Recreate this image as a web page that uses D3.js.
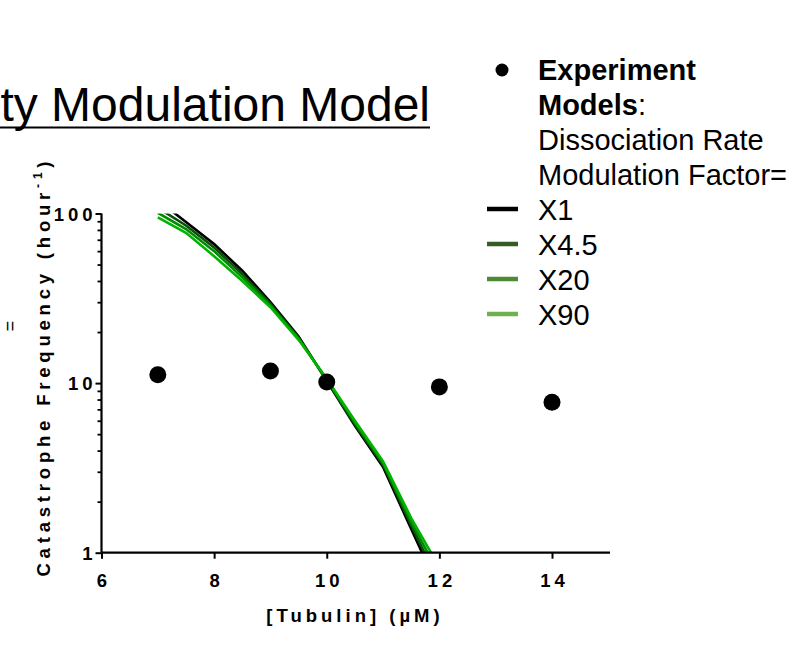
<!DOCTYPE html>
<html>
<head>
<meta charset="utf-8">
<script src="https://cdn.jsdelivr.net/npm/d3@7"></script>
<style>
  html, body { margin: 0; padding: 0; background: #fff; }
  svg { display: block; font-family: Arial, "Liberation Sans", sans-serif; }
</style>
</head>
<body>
<svg id="chart" width="791" height="646"></svg>
<script>
// Measured catastrophe frequency
const expTubulin = [7, 9, 10, 12, 14];
const expFrequency = [11.2, 11.8, 10.15, 9.5, 7.7];

// Model predictions, one series per dissociation rate modulation factor
const modelTubulin = [7, 7.5, 8, 8.5, 9, 9.5, 10, 10.5, 11, 11.5, 12];
const modelX1   = [120, 89, 66, 46, 30, 18.8, 10.3, 5.6, 3.2, 1.38, 0.6];
const modelX4_5 = [108, 85, 63, 44, 29.3, 18.5, 10.4, 5.7, 3.3, 1.45, 0.66];
const modelX20  = [101, 81, 60, 42, 28.6, 18.3, 10.5, 5.85, 3.38, 1.52, 0.74];
const modelX90  = [95, 77, 56, 40, 28, 18, 10.6, 6.0, 3.45, 1.6, 0.82];

const seriesNames = ["X1", "X4.5", "X20", "X90"];
const seriesValues = [modelX1, modelX4_5, modelX20, modelX90];
const lineColors = ["#000000", "#0a4f0a", "#008c00", "#00b400"];
const legendColors = ["#000000", "#355d25", "#4d8a33", "#6db24c"];

const xTicks = [6, 8, 10, 12, 14];
const yTicks = [1, 10, 100];

const FONT = "Arial, 'Liberation Sans', sans-serif";
const svg = d3.select("#chart");

const x = d3.scaleLinear().domain([6, 15.03]).range([101.5, 610]);
const y = d3.scaleLog().domain([1, 100]).range([552.7, 213.5]);

// Title (underlined)
svg.append("text")
  .attr("x", 430).attr("y", 121)
  .attr("text-anchor", "end")
  .attr("font-size", 48)
  .attr("fill", "#000")
  .text("ty Modulation Model");
svg.append("line")
  .attr("x1", 0).attr("x2", 430)
  .attr("y1", 127.5).attr("y2", 127.5)
  .attr("stroke", "#000").attr("stroke-width", 2.2);

// Rotated "=" at the left margin
svg.append("text")
  .attr("transform", "translate(16,326) rotate(-90)")
  .attr("text-anchor", "middle")
  .attr("font-size", 18)
  .text("=");

// Clip region for model curves
svg.append("defs").append("clipPath").attr("id", "plotClip")
  .append("rect")
  .attr("x", x(6)).attr("y", y(100))
  .attr("width", x(15.03) - x(6)).attr("height", y(1) - y(100));

const line = d3.line()
  .x((d, i) => x(modelTubulin[i]))
  .y(d => y(d));

const curves = svg.append("g").attr("clip-path", "url(#plotClip)");
seriesValues.forEach((vals, k) => {
  curves.append("path")
    .datum(vals)
    .attr("d", line)
    .attr("fill", "none")
    .attr("stroke", lineColors[k])
    .attr("stroke-width", 2.6);
});

// Axes
const TICK_FS = 18.5, TICK_LS = 4;
const xAxis = d3.axisBottom(x).tickValues(xTicks).tickSize(6);
const gx = svg.append("g").attr("transform", `translate(0,${y(1)})`).call(xAxis);
gx.select(".domain").attr("d", `M${x(6)},0H${x(15.03)}`).attr("stroke-width", 2.2);
gx.selectAll(".tick line").attr("stroke-width", 2);
gx.selectAll(".tick text")
  .attr("font-size", TICK_FS).attr("font-weight", "bold")
  .attr("font-family", FONT)
  .attr("letter-spacing", TICK_LS + "px")
  .attr("y", 34).attr("dy", 0)
  .attr("dx", (TICK_LS / 2) + "px");

const minorVals = [];
for (let dec = 1; dec < 100; dec *= 10) {
  for (let m = 2; m <= 9; m++) minorVals.push(m * dec);
}
const yMinor = d3.axisLeft(y).tickValues(minorVals).tickSize(4).tickFormat("");
const gyMinor = svg.append("g").attr("transform", `translate(${x(6)},0)`).call(yMinor);
gyMinor.select(".domain").remove();
gyMinor.selectAll(".tick line").attr("stroke-width", 1.8);

const yAxis = d3.axisLeft(y).tickValues(yTicks).tickSize(6).tickPadding(3)
  .tickFormat(d3.format("d"));
const gy = svg.append("g").attr("transform", `translate(${x(6)},0)`).call(yAxis);
gy.select(".domain").attr("d", `M0,${y(1)}V${y(100)}`).attr("stroke-width", 2.2);
gy.selectAll(".tick line").attr("stroke-width", 2);
gy.selectAll(".tick text")
  .attr("font-size", TICK_FS).attr("font-weight", "bold")
  .attr("font-family", FONT)
  .attr("letter-spacing", TICK_LS + "px")
  .attr("dx", TICK_LS + "px")
  .attr("dy", "0.36em");

// Axis titles
const XL_LS = 4;
svg.append("text")
  .attr("x", 353 + XL_LS / 2).attr("y", 622)
  .attr("text-anchor", "middle")
  .attr("font-size", 18.5).attr("font-weight", "bold")
  .attr("letter-spacing", XL_LS + "px")
  .text("[Tubulin] (µM)");

const YL_LS = 4.8;
const yl = svg.append("text")
  .attr("transform", `translate(50,${369 - YL_LS / 2}) rotate(-90)`)
  .attr("text-anchor", "middle")
  .attr("font-size", 18.5).attr("font-weight", "bold")
  .attr("letter-spacing", YL_LS + "px");
yl.append("tspan").text("Catastrophe Frequency (hour");
yl.append("tspan").attr("font-size", 12).attr("dy", "-8").text("-1");
yl.append("tspan").attr("dy", "8").text(")");

// Experimental points
svg.append("g").selectAll("circle")
  .data(expTubulin)
  .join("circle")
  .attr("cx", d => x(d))
  .attr("cy", (d, i) => y(expFrequency[i]))
  .attr("r", 8.5)
  .attr("fill", "#000");

// Legend
const LG_FS = 29;
const lg = svg.append("g").attr("font-size", LG_FS);
const lx = 538;
lg.append("circle").attr("cx", 502).attr("cy", 70).attr("r", 6.5).attr("fill", "#000");
lg.append("text").attr("x", lx).attr("y", 80).attr("font-weight", "bold").text("Experiment");
const mt = lg.append("text").attr("x", lx).attr("y", 115);
mt.append("tspan").attr("font-weight", "bold").text("Models");
mt.append("tspan").text(":");
lg.append("text").attr("x", lx).attr("y", 150).text("Dissociation Rate");
lg.append("text").attr("x", lx).attr("y", 185).text("Modulation Factor=");

seriesNames.forEach((name, k) => {
  const cy = 209 + k * 35;
  lg.append("line")
    .attr("x1", 487).attr("x2", 518)
    .attr("y1", cy).attr("y2", cy)
    .attr("stroke", legendColors[k]).attr("stroke-width", 4.5);
  lg.append("text").attr("x", lx).attr("y", cy + 10.5).text(name);
});
</script>
</body>
</html>
